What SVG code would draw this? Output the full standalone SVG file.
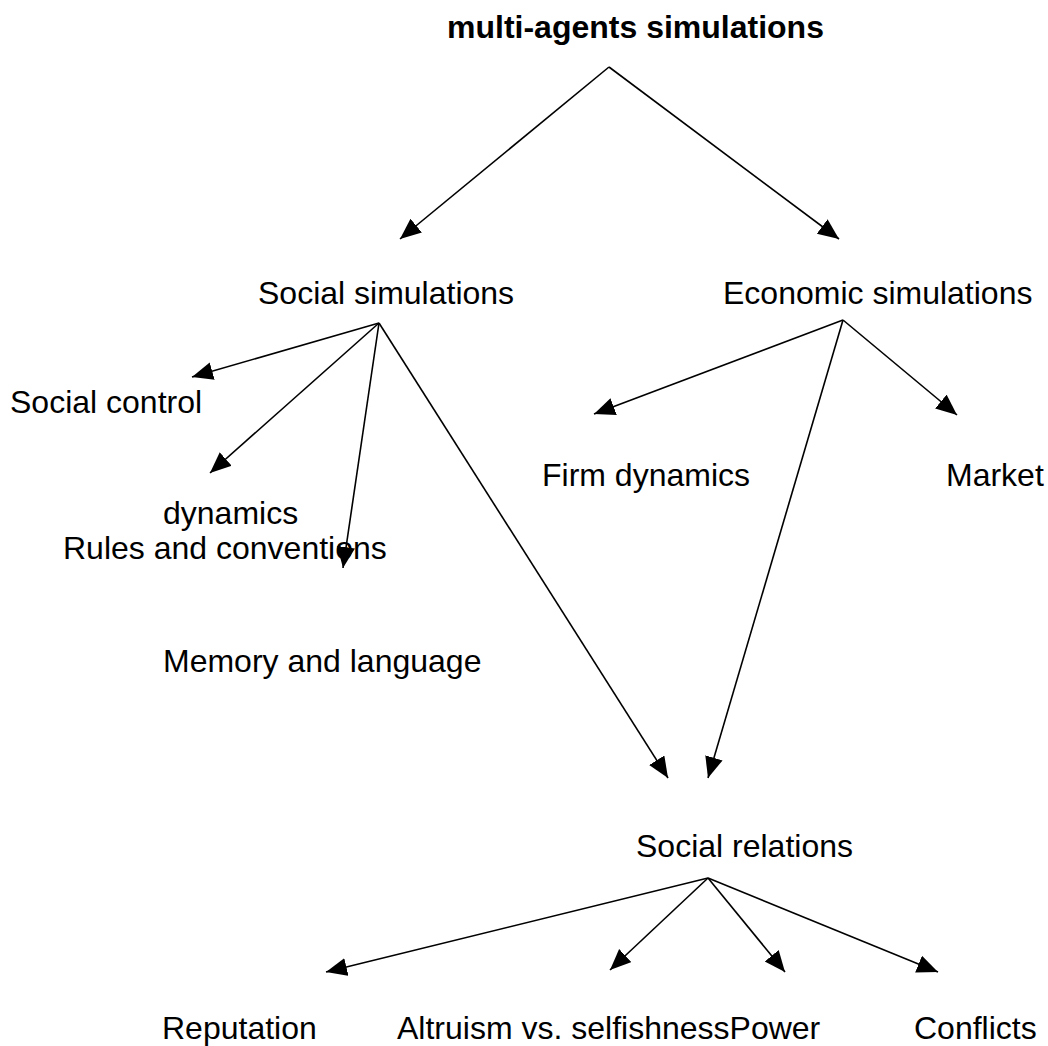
<svg xmlns="http://www.w3.org/2000/svg" width="1048" height="1046" viewBox="0 0 1048 1046">
<defs>
<marker id="arr" markerUnits="userSpaceOnUse" markerWidth="24" markerHeight="20" refX="21" refY="9" orient="auto">
<path d="M0,0 L21,9 L0,18 z" fill="#000"/>
</marker>
<style>
text{font-family:"Liberation Sans",Arial,sans-serif;font-size:32px;fill:#000}
.t{font-weight:bold}
.c line{stroke:#000;stroke-width:1.6;marker-end:url(#arr)}
</style>
</defs>
<rect width="1048" height="1046" fill="#fff"/>
<g class="c" id="connectors">
<line x1="609" y1="67" x2="400" y2="239"/>
<line x1="609" y1="67" x2="839" y2="239"/>
<line x1="379" y1="323" x2="192" y2="377"/>
<line x1="379" y1="323" x2="210" y2="473"/>
<line x1="379" y1="323" x2="343" y2="568"/>
<line x1="379" y1="323" x2="668" y2="778"/>
<line x1="843" y1="320" x2="594" y2="414"/>
<line x1="843" y1="320" x2="957" y2="415"/>
<line x1="843" y1="320" x2="708" y2="778"/>
<line x1="708" y1="878" x2="326" y2="972"/>
<line x1="708" y1="878" x2="610" y2="970"/>
<line x1="708" y1="878" x2="785" y2="972"/>
<line x1="708" y1="878" x2="938" y2="972"/>
</g>
<g id="n-root"><text class="t" x="447" y="38">multi-agents simulations</text></g>
<g id="n-social"><text x="258" y="304">Social simulations</text></g>
<g id="n-economic"><text x="723" y="304">Economic simulations</text></g>
<g id="n-control"><text x="10" y="413">Social control</text></g>
<g id="n-dynamics"><text x="163" y="524">dynamics</text></g>
<g id="n-rules"><text x="63" y="559">Rules and conventions</text></g>
<g id="n-memory"><text x="163" y="672">Memory and language</text></g>
<g id="n-firm"><text x="542" y="486">Firm dynamics</text></g>
<g id="n-market"><text x="946" y="486">Market</text></g>
<g id="n-relations"><text x="636" y="857">Social relations</text></g>
<g id="n-reputation"><text x="162" y="1039">Reputation</text></g>
<g id="n-altruism"><text x="397" y="1039">Altruism vs. selfishnessPower</text></g>
<g id="n-conflicts"><text x="914" y="1039">Conflicts</text></g>
</svg>
